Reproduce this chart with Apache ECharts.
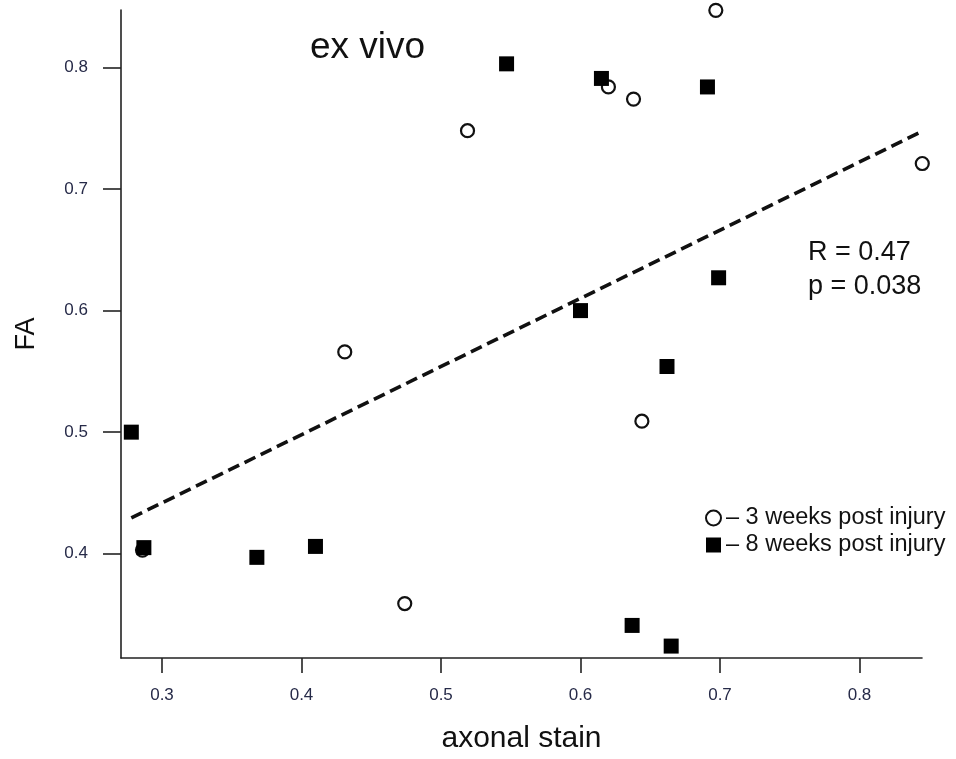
<!DOCTYPE html>
<html>
<head>
<meta charset="utf-8">
<script src="https://cdn.jsdelivr.net/npm/echarts@6/dist/echarts.min.js"></script>
<style>
  html, body { margin: 0; padding: 0; background: #fff; }
  #chart { width: 956px; height: 759px; }
</style>
</head>
<body>
<div id="chart"></div>
<script>
// Axonal stain vs FA, ex vivo
const xTicks = [0.3, 0.4, 0.5, 0.6, 0.7, 0.8];
const yTicks = [0.4, 0.5, 0.6, 0.7, 0.8];

// 3 weeks post injury
const weeks3X = [0.697, 0.620, 0.638, 0.519, 0.845, 0.431, 0.644, 0.474, 0.286];
const weeks3Y = [0.847, 0.784, 0.774, 0.748, 0.721, 0.566, 0.509, 0.359, 0.403];

// 8 weeks post injury
const weeks8X = [0.547, 0.615, 0.691, 0.699, 0.600, 0.662, 0.278, 0.287, 0.368, 0.410, 0.637, 0.665];
const weeks8Y = [0.803, 0.791, 0.784, 0.627, 0.600, 0.554, 0.500, 0.405, 0.397, 0.406, 0.341, 0.324];

// regression line end points
const fitX = [0.278, 0.845];
const fitY = [0.4295, 0.7475];

const zip = (xs, ys) => xs.map((x, i) => [x, ys[i]]);

const FONT = 'Arial, "Liberation Sans", Helvetica, sans-serif';
const tickColor = '#262a48';

const chart = echarts.init(document.getElementById('chart'), null, { renderer: 'canvas' });

chart.setOption({
  animation: false,
  backgroundColor: '#ffffff',
  grid: { left: 121, right: 34, top: 10, bottom: 98, containLabel: false },
  xAxis: {
    type: 'value',
    min: 0.2706,
    max: 0.8448,
    name: 'axonal stain',
    nameLocation: 'middle',
    nameGap: 66,
    nameTextStyle: { fontFamily: FONT, fontSize: 30, color: '#111', verticalAlign: 'top' },
    axisLine: { show: true, lineStyle: { color: '#222', width: 1.6 } },
    axisTick: { show: true, inside: false, length: 15, customValues: xTicks, lineStyle: { color: '#222', width: 1.6 } },
    axisLabel: {
      show: true, margin: 29, customValues: xTicks,
      fontFamily: FONT, fontSize: 17, color: tickColor,
      formatter: v => v.toFixed(1)
    },
    splitLine: { show: false }
  },
  yAxis: {
    type: 'value',
    min: 0.3142,
    max: 0.8473,
    name: 'FA',
    nameLocation: 'middle',
    nameGap: 81,
    nameRotate: 90,
    nameTextStyle: { fontFamily: FONT, fontSize: 27, color: '#111' },
    axisLine: { show: true, lineStyle: { color: '#222', width: 1.6 } },
    axisTick: { show: true, inside: false, length: 18, customValues: yTicks, lineStyle: { color: '#222', width: 1.6 } },
    axisLabel: {
      show: true, margin: 33, customValues: yTicks,
      fontFamily: FONT, fontSize: 17, color: tickColor,
      formatter: v => v.toFixed(1)
    },
    splitLine: { show: false }
  },
  legend: {
    orient: 'vertical',
    left: 705,
    top: 506,
    padding: 0,
    itemWidth: 15,
    itemHeight: 15,
    itemGap: 3,
    textStyle: { fontFamily: FONT, fontSize: 23.5, color: '#111' },
    formatter: name => '\u2013 ' + name,
    data: ['3 weeks post injury', '8 weeks post injury']
  },
  series: [
    {
      name: 'regression',
      type: 'line',
      data: zip(fitX, fitY),
      symbol: 'none',
      silent: true,
      lineStyle: { color: '#111', width: 3.6, type: [12, 6] },
      z: 1
    },
    {
      name: '3 weeks post injury',
      type: 'scatter',
      data: zip(weeks3X, weeks3Y),
      symbol: 'circle',
      symbolSize: 13,
      clip: false,
      itemStyle: { color: '#ffffff', borderColor: '#111', borderWidth: 2.2, opacity: 1 },
      z: 2
    },
    {
      name: '8 weeks post injury',
      type: 'scatter',
      data: zip(weeks8X, weeks8Y),
      symbol: 'rect',
      symbolSize: 15,
      clip: false,
      itemStyle: { color: '#000', opacity: 1 },
      z: 3
    }
  ],
  graphic: [
    {
      type: 'text', left: 310, top: 29,
      style: { text: 'ex vivo', fontFamily: FONT, fontSize: 37, fill: '#111' }
    },
    {
      type: 'text', left: 808, top: 239,
      style: { text: 'R = 0.47', fontFamily: FONT, fontSize: 27, fill: '#111' }
    },
    {
      type: 'text', left: 808, top: 273,
      style: { text: 'p = 0.038', fontFamily: FONT, fontSize: 27, fill: '#111' }
    }
  ]
});
</script>
</body>
</html>
